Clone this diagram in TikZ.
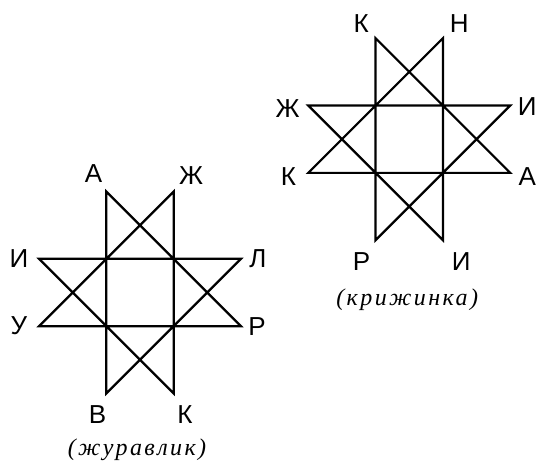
\documentclass[tikz,border=0pt]{standalone}
\usepackage{fontspec}
\setmainfont{Liberation Serif}
\newfontfamily\labelfont{Liberation Sans}
\newfontfamily\capfont[LetterSpace=10]{Liberation Serif}
\usetikzlibrary{calc,positioning}

\tikzset{
  starline/.style={line width=2.2pt,black},
  letter/.style={inner sep=0pt,font=\labelfont\fontsize{26}{26}\selectfont},
  caption/.style={inner sep=0pt,font=\capfont\fontsize{24}{24}\selectfont\itshape}
}

\begin{document}
\begin{tikzpicture}[x=1pt,y=1pt]
\useasboundingbox (0,0) rectangle (537,463);
% two octagrams {8/3}, tips at (+-a,+-3a) and (+-3a,+-a)
\foreach \cx/\cy/\s in {140/170.5/L, 409.2/323.8/R}{
  \coordinate (\s1) at (\cx-33.7,\cy+101);
  \coordinate (\s2) at (\cx+33.7,\cy+101);
  \coordinate (\s3) at (\cx+101,\cy+33.7);
  \coordinate (\s4) at (\cx+101,\cy-33.7);
  \coordinate (\s5) at (\cx+33.7,\cy-101);
  \coordinate (\s6) at (\cx-33.7,\cy-101);
  \coordinate (\s7) at (\cx-101,\cy-33.7);
  \coordinate (\s8) at (\cx-101,\cy+33.7);
  \draw[starline] (\s1) -- (\s6) -- (\s3) -- (\s8) -- (\s5) -- (\s2) -- (\s7) -- (\s4) -- cycle;
}

% left star: журавлик
\begin{scope}[shift={(140,170.5)}]
\node[letter] (lA)  at (-46.5,118.5) {А};
\node[letter] (lZh) at (51,116.5) {Ж};
\node[letter] (lL)  at (118,34) {Л};
\node[letter] (lR)  at (117,-34.5) {Р};
\node[letter] (lK)  at (45,-122.5) {К};
\node[letter] (lV)  at (-42.5,-122.5) {В};
\node[letter] (lU)  at (-121,-33) {У};
\node[letter] (lI)  at (-121,34) {И};
\node[caption] (lcap) at (-3,-157.5) {(журавлик)};
\end{scope}

% right star: крижинка
\begin{scope}[shift={(409.2,323.8)}]
\node[letter] (rK)  at (-48,115.7) {К};
\node[letter] (rN)  at (50,115.7) {Н};
\node[letter] (rI)  at (118,32.5) {И};
\node[letter] (rA)  at (118,-37.5) {А};
\node[letter] (rI2) at (52,-122.5) {И};
\node[letter] (rR)  at (-47.7,-122.5) {Р};
\node[letter] (rK2) at (-120.7,-37.5) {К};
\node[letter] (rZh) at (-121.7,31) {Ж};
\node[caption] (rcap) at (-2,-161) {(крижинка)};
\end{scope}
\end{tikzpicture}
\end{document}
